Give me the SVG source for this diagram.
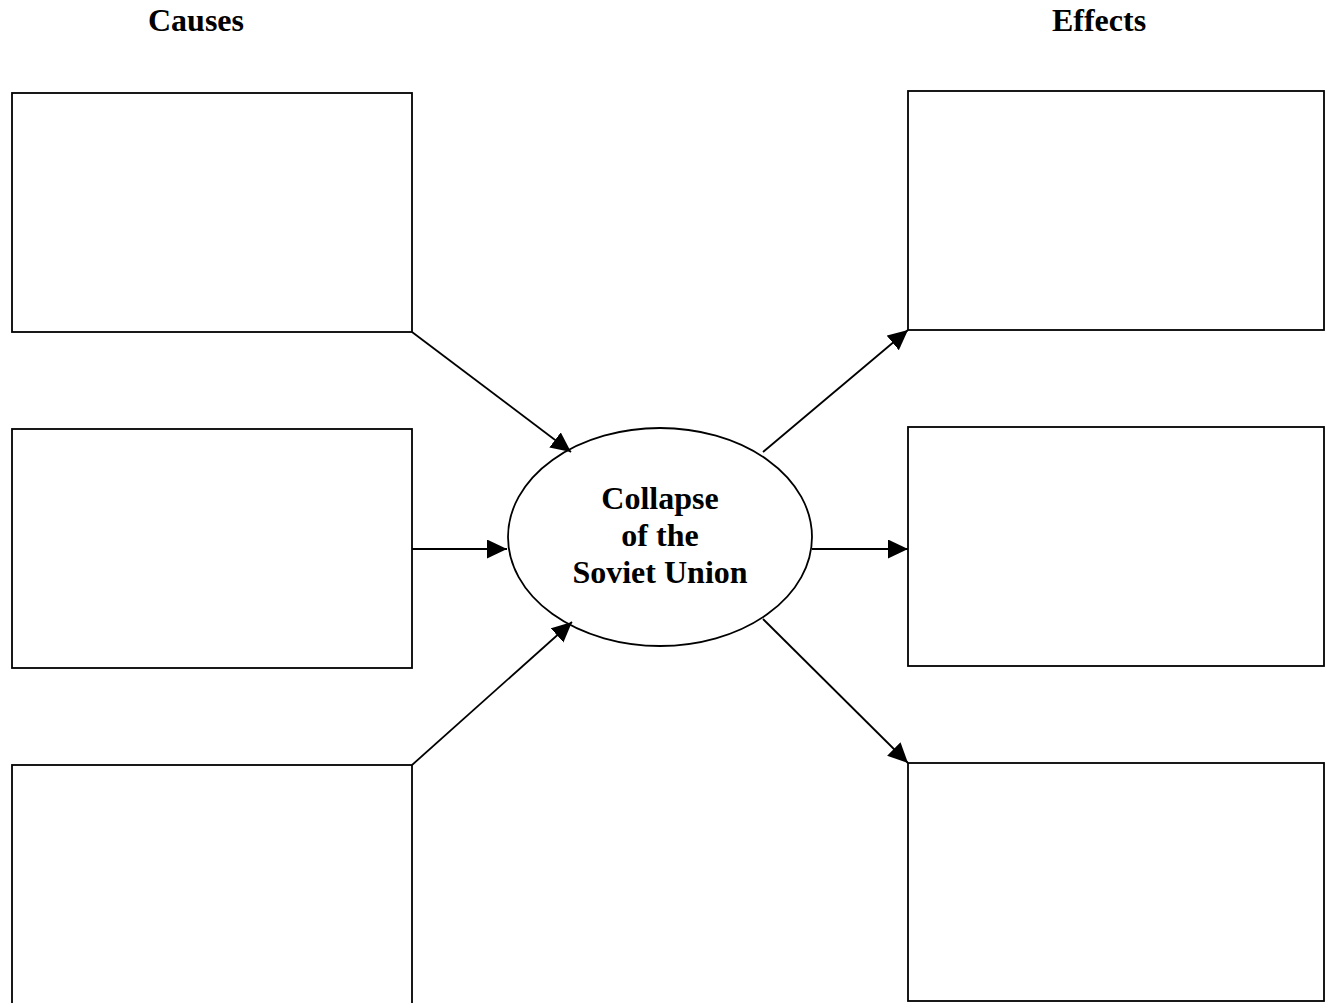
<svg xmlns="http://www.w3.org/2000/svg" width="1333" height="1003" viewBox="0 0 1333 1003">
<style>
.box{fill:#fff;stroke:#000;stroke-width:1.8}
.ell{fill:#fff;stroke:#000;stroke-width:1.8}
.t{font-family:"Liberation Serif","Times New Roman",serif;font-weight:bold;font-size:32px;fill:#000;text-anchor:middle}
.c{stroke:#000;stroke-width:1.8;fill:none;marker-end:url(#ah)}
</style>
<defs>
<marker id="ah" markerUnits="userSpaceOnUse" markerWidth="22" markerHeight="20" refX="20" refY="9.5" orient="auto">
<path d="M0,0 L20,9.5 L0,19 z" fill="#000"/>
</marker>
</defs>
<rect width="1333" height="1003" fill="#fff"/>
<g id="title-causes"><text class="t" x="196" y="31">Causes</text></g>
<g id="title-effects"><text class="t" x="1099" y="31">Effects</text></g>
<g id="cause1"><rect class="box" x="12" y="93" width="400" height="239"/></g>
<g id="cause2"><rect class="box" x="12" y="429" width="400" height="239"/></g>
<g id="cause3"><rect class="box" x="12" y="765" width="400" height="250"/></g>
<g id="effect1"><rect class="box" x="908" y="91" width="416" height="239"/></g>
<g id="effect2"><rect class="box" x="908" y="427" width="416" height="239"/></g>
<g id="effect3"><rect class="box" x="908" y="763" width="416" height="238"/></g>
<g id="center">
<ellipse class="ell" cx="660" cy="537" rx="152" ry="109"/>
<text class="t" x="660" y="509">Collapse</text>
<text class="t" x="660" y="546">of the</text>
<text class="t" x="660" y="583">Soviet Union</text>
</g>
<g id="connectors">
<line class="c" x1="412" y1="332" x2="571" y2="452"/>
<line class="c" x1="412" y1="549" x2="507" y2="549"/>
<line class="c" x1="412" y1="765" x2="572" y2="622"/>
<line class="c" x1="763" y1="452" x2="908" y2="330"/>
<line class="c" x1="812" y1="549" x2="908" y2="549"/>
<line class="c" x1="763" y1="619" x2="908" y2="763"/>
</g>
</svg>
